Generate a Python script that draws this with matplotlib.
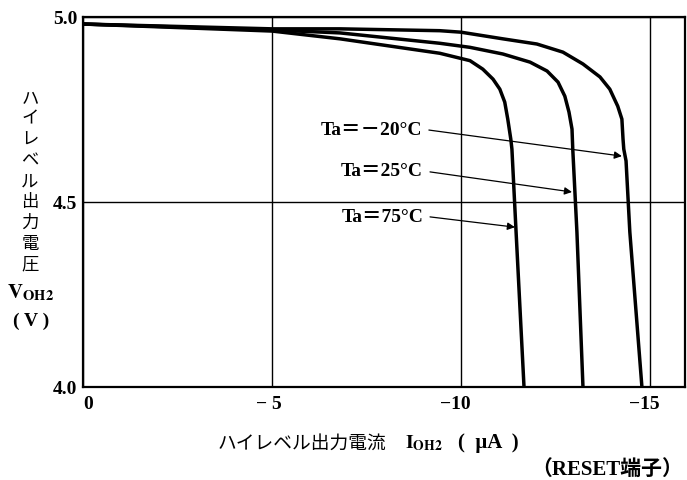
import matplotlib
matplotlib.use("Agg")
import matplotlib.pyplot as plt
from matplotlib.transforms import ScaledTranslation

plt.rcParams['mathtext.fontset'] = 'stix'

# --- Data ---
# x: high level output current I_OH2 (uA), y: V_OH2 (V)
i_m20 = [0, -5.0, -6.8, -9.44, -10.0, -11.11, -12.01, -12.70, -13.23, -13.68, -13.94,
         -14.15, -14.26, -14.29, -14.31, -14.37, -14.47, -14.79]
v_m20 = [4.981, 4.968, 4.968, 4.963, 4.959, 4.941, 4.927, 4.905, 4.873, 4.838, 4.805,
         4.759, 4.724, 4.670, 4.643, 4.611, 4.419, 4.0]

i_25 = [0, -5.0, -6.8, -9.44, -10.24, -11.11, -11.83, -12.28, -12.57, -12.75, -12.86,
        -12.94, -12.96, -13.07, -13.23]
v_25 = [4.981, 4.965, 4.957, 4.929, 4.918, 4.900, 4.878, 4.854, 4.824, 4.786, 4.743,
        4.697, 4.643, 4.419, 4.0]

i_75 = [0, -5.0, -6.8, -9.44, -10.24, -10.58, -10.85, -11.03, -11.16, -11.24, -11.32,
        -11.35, -11.46, -11.67]
v_75 = [4.981, 4.962, 4.941, 4.902, 4.882, 4.859, 4.832, 4.805, 4.770, 4.724, 4.670,
        4.643, 4.419, 4.0]

labels = ["Ta＝－20°C", "Ta＝25°C", "Ta＝75°C"]
label_pos = [(-8.97, 4.697), (-9.0, 4.584), (-9.0, 4.462)]
arrow_tips = [(-14.26, 4.624), (-12.94, 4.527), (-11.43, 4.432)]

x_ticks = [0, -5, -10, -15]
x_ticklabels = ["0", "− 5", "−10", "−15"]
y_ticks = [4.0, 4.5, 5.0]
y_ticklabels = ["4.0", "4.5", "5.0"]

SERIF = ['Liberation Serif', 'Noto Sans CJK JP']
CJK = ['Noto Sans CJK JP', 'Liberation Serif']

W, H = 687, 481

def px(x, y):
    return x / W, 1 - y / H

# --- Figure ---
fig = plt.figure(figsize=(W / 100, H / 100), dpi=100)
ax = fig.add_axes([83 / W, 93 / H, 602 / W, 370 / H])

for xs, ys in [(i_m20, v_m20), (i_25, v_25), (i_75, v_75)]:
    ax.plot(xs, ys, color='black', lw=2.5, solid_joinstyle='round', zorder=3)

ax.set_xlim(0, -15.93)
ax.set_ylim(4.0, 5.0)
ax.set_xticks(x_ticks)
ax.set_xticklabels(x_ticklabels, fontfamily=SERIF, fontweight='bold', fontsize=14)
ax.set_yticks(y_ticks)
ax.set_yticklabels(y_ticklabels, fontfamily=SERIF, fontweight='bold', fontsize=14)
ax.tick_params(length=0, pad=4)
ax.tick_params(axis='x', pad=6)
ax.grid(True, color='black', lw=1.0, zorder=1)
ax.set_axisbelow(True)
for sp in ax.spines.values():
    sp.set_linewidth(1.6)

for lbl in ax.get_xticklabels():
    lbl.set_horizontalalignment('right')
    lbl.set_transform(lbl.get_transform() + ScaledTranslation(7 / 72, 0, fig.dpi_scale_trans))

for txt, pos, tip in zip(labels, label_pos, arrow_tips):
    ax.annotate(txt, xy=tip, xytext=pos, ha='right', va='center',
                fontfamily=SERIF, fontweight='bold', fontsize=14,
                arrowprops=dict(arrowstyle='-|>', color='black', lw=0.9,
                                mutation_scale=11, shrinkA=3, shrinkB=0,
                                relpos=(1, 0.5)))

# --- Vertical y label ---
ylab = "ハイレベル出力電圧"
for k, ch in enumerate(ylab):
    fig.text(*px(30, 98 + k * 20.8), ch, fontfamily=CJK, fontsize=12.5,
             ha='center', va='center')
fig.text(*px(31, 293), r"$\mathbf{V}_{\mathbf{OH2}}$", fontsize=15, ha='center', va='center')
fig.text(*px(31, 321), "( V )", fontfamily=SERIF, fontweight='bold', fontsize=14, ha='center', va='center')

# --- x label ---
fig.text(*px(218, 443), "ハイレベル出力電流", fontfamily=CJK, fontsize=13.5, ha='left', va='center')
fig.text(*px(405, 443), r"$\mathbf{I}_{\mathbf{OH2}}$", fontsize=14, ha='left', va='center')
fig.text(*px(458, 443), "(  μA  )", fontfamily=SERIF, fontweight='bold', fontsize=15, ha='left', va='center')
fig.text(*px(683, 470), "（RESET端子）", fontfamily=SERIF, fontweight='bold', fontsize=15, ha='right', va='center')

fig.savefig("out.png", dpi=100)
